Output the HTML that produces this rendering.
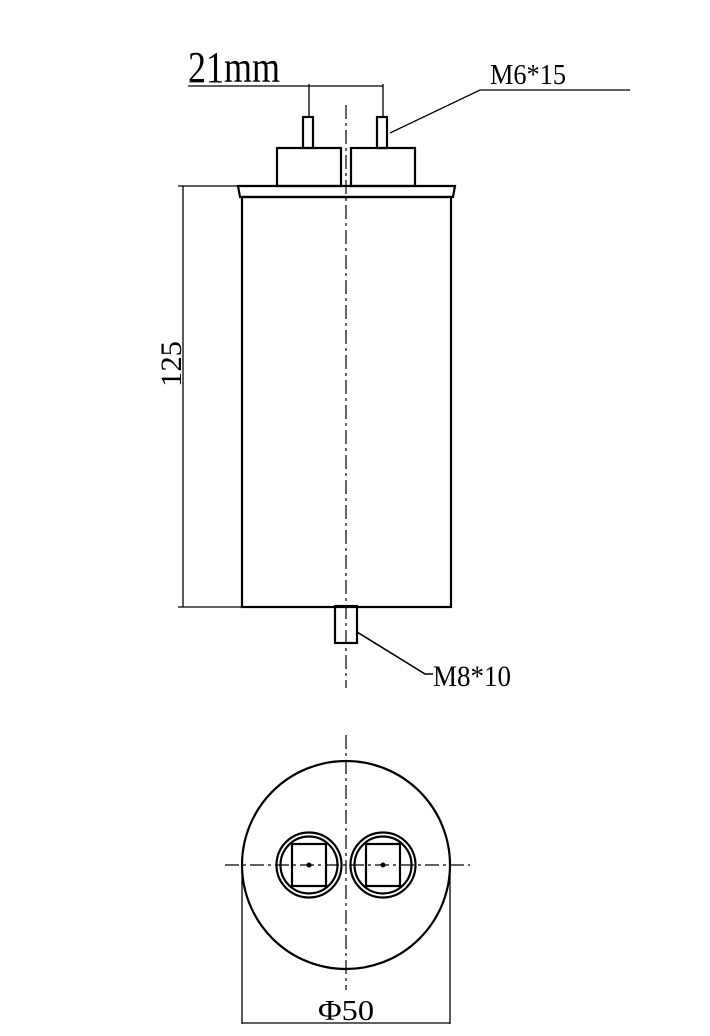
<!DOCTYPE html>
<html><head><meta charset="utf-8"><style>
html,body{margin:0;padding:0;background:#fff;}
svg{display:block;}
text{font-family:"Liberation Serif","Noto Serif CJK SC",serif;fill:#000;}
</style></head><body>
<svg width="710" height="1036" viewBox="0 0 710 1036" xmlns="http://www.w3.org/2000/svg">
<g fill="none" stroke="#000" stroke-width="2.2">
<line x1="346" y1="105" x2="346" y2="688" stroke-width="1.2" stroke-dasharray="14,4,3,4"/>
<line x1="346" y1="735" x2="346" y2="990" stroke-width="1.2" stroke-dasharray="14,4,3,4"/>
<line x1="225" y1="865" x2="470" y2="865" stroke-width="1.2" stroke-dasharray="14,4,3,4"/>
<rect x="303" y="117" width="10" height="31"/>
<rect x="377" y="117" width="10" height="31"/>
<rect x="277" y="148" width="64" height="38"/>
<rect x="351" y="148" width="64" height="38"/>
<path d="M238,186 L455,186 L453,197 L240,197 Z"/>
<rect x="242" y="197" width="209" height="410"/>
<rect x="335" y="606" width="22" height="37"/>
<line x1="309" y1="117" x2="309" y2="84" stroke-width="1.3"/>
<line x1="383" y1="117" x2="383" y2="84" stroke-width="1.3"/>
<line x1="188" y1="86" x2="383" y2="86" stroke-width="1.3"/>
<polyline points="390,133 480,90 630,90" stroke-width="1.3"/>
<polyline points="357,632 425,674 433,674" stroke-width="1.6"/>
<line x1="183" y1="186" x2="183" y2="607" stroke-width="1.3"/>
<line x1="178" y1="186" x2="240" y2="186" stroke-width="1.3"/>
<line x1="178" y1="607" x2="242" y2="607" stroke-width="1.3"/>
<circle cx="346" cy="865" r="104"/>
<circle cx="309" cy="865" r="32.5"/>
<circle cx="309" cy="865" r="28.5"/>
<circle cx="383" cy="865" r="32.5"/>
<circle cx="383" cy="865" r="28.5"/>
<rect x="292" y="844" width="34" height="42"/>
<rect x="366" y="844" width="34" height="42"/>
<line x1="242" y1="865" x2="242" y2="1024" stroke-width="1.3"/>
<line x1="450" y1="865" x2="450" y2="1024" stroke-width="1.3"/>
<line x1="242" y1="1023" x2="450" y2="1023" stroke-width="1.3"/>
</g>
<circle cx="309" cy="865" r="2.5" fill="#000"/>
<circle cx="383" cy="865" r="2.5" fill="#000"/>
<text x="188" y="82" font-size="44" textLength="92" lengthAdjust="spacingAndGlyphs">21mm</text>
<text x="490" y="84" font-size="28" textLength="76" lengthAdjust="spacingAndGlyphs">M6*15</text>
<text x="433" y="686" font-size="30" textLength="78" lengthAdjust="spacingAndGlyphs">M8*10</text>
<text transform="translate(181,387) rotate(-90)" font-size="30" textLength="46" lengthAdjust="spacingAndGlyphs">125</text>
<text x="318" y="1020" font-size="28" textLength="56" lengthAdjust="spacingAndGlyphs">Φ50</text>
</svg>
</body></html>
